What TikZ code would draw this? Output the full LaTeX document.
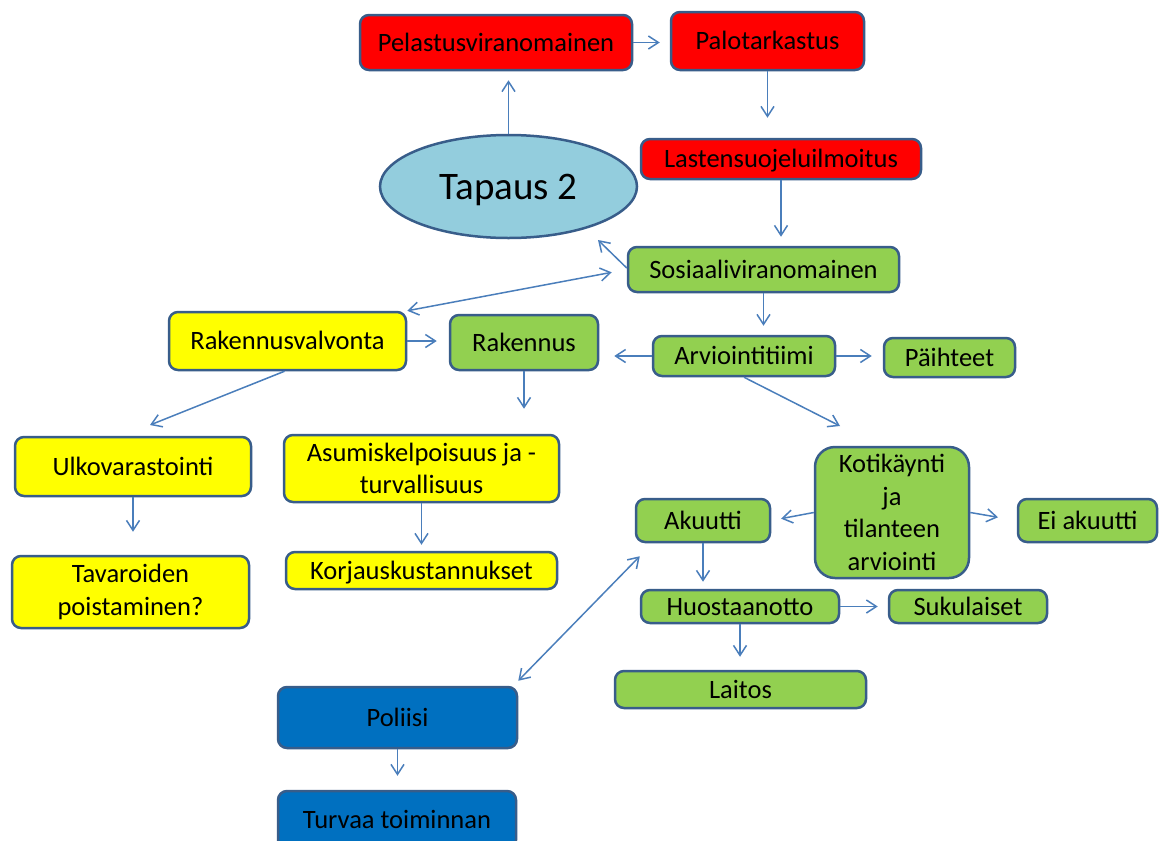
\documentclass[tikz,border=0pt]{standalone}
\usepackage{fontspec}
\setmainfont{Carlito}
\usetikzlibrary{arrows.meta,shapes.geometric}
\definecolor{bord}{HTML}{385D8A}
\definecolor{arrc}{HTML}{4A7EBB}
\definecolor{cred}{HTML}{FF0000}
\definecolor{cyel}{HTML}{FFFF00}
\definecolor{cgrn}{HTML}{92D050}
\definecolor{cell}{HTML}{93CDDD}
\definecolor{cblu}{HTML}{0070C0}
\begin{document}
\begin{tikzpicture}[x=1pt,y=-1pt,
  box/.style={draw=bord, line width=2.5pt, rounded corners=9pt, inner sep=0pt, align=center,
    font=\fontsize{26.5}{32.5}\selectfont},
  oneline/.style={text height=17pt, text depth=0pt},
  redbox/.style={box, oneline, fill=cred},
  yelbox/.style={box, oneline, fill=cyel},
  grnbox/.style={box, oneline, fill=cgrn},
  blubox/.style={box, oneline, fill=cblu},
  yelmulti/.style={box, fill=cyel},
  grnmulti/.style={box, fill=cgrn},
  arr/.style={draw=arrc, line width=1.5pt, -{Straight Barb[length=10pt,width=13pt]}},
  arrb/.style={draw=arrc, line width=1.5pt, {Straight Barb[length=10pt,width=13pt]}-{Straight Barb[length=10pt,width=13pt]}}]
\useasboundingbox (0,0) rectangle (1160,841);
\fill[white] (0,0) rectangle (1160,841);

% nodes
\node[redbox, minimum width=272pt, minimum height=55pt] (pel) at (496,42.5) {Pelastusviranomainen};
\node[redbox, minimum width=193pt, minimum height=58pt] (pal) at (767.5,41) {Palotarkastus};
\node[redbox, minimum width=280pt, minimum height=40pt] (las) at (781,159) {Lastensuojeluilmoitus};
\node[ellipse, draw=bord, line width=2.5pt, fill=cell, inner sep=0pt, minimum width=257pt, minimum height=103pt,
  text height=25pt, text depth=0pt, font=\fontsize{39}{45}\selectfont] (tap) at (508.5,186.5) {Tapaus 2};
\node[grnbox, minimum width=271pt, minimum height=45pt] (sos) at (763.5,269.5) {Sosiaaliviranomainen};
\node[yelbox, minimum width=237pt, minimum height=58pt] (rkv) at (287.5,341) {Rakennusvalvonta};
\node[grnbox, minimum width=148pt, minimum height=55pt] (rak) at (524,342.5) {Rakennus};
\node[grnbox, minimum width=182pt, minimum height=40pt] (arv) at (744,356) {Arviointitiimi};
\node[grnbox, minimum width=131pt, minimum height=39pt] (pai) at (949.5,357.5) {Päihteet};
\node[yelbox, minimum width=236pt, minimum height=59pt] (ulk) at (133,466.5) {Ulkovarastointi};
\node[yelmulti, minimum width=275pt, minimum height=67pt] (asu) at (421.5,468.5) {Asumiskelpoisuus ja -\\turvallisuus};
\node[yelmulti, minimum width=237pt, minimum height=72pt] (tav) at (130.5,592) {Tavaroiden\\poistaminen?};
\node[yelbox, minimum width=271pt, minimum height=37pt] (kor) at (421.5,570.5) {Korjauskustannukset};
\node[grnmulti, rounded corners=20pt, minimum width=154pt, minimum height=131pt] (kot) at (892,512.5) {Kotikäynti\\ja\\tilanteen\\arviointi};
\node[grnbox, minimum width=134pt, minimum height=43pt] (aku) at (703,520.5) {Akuutti};
\node[grnbox, minimum width=139pt, minimum height=43pt] (eia) at (1087.5,520.5) {Ei akuutti};
\node[grnbox, minimum width=198pt, minimum height=33pt] (huo) at (740,606.5) {Huostaanotto};
\node[grnbox, minimum width=158pt, minimum height=33pt] (suk) at (968,606.5) {Sukulaiset};
\node[grnbox, minimum width=251pt, minimum height=37pt] (lai) at (740.5,689.5) {Laitos};
\node[blubox, minimum width=239pt, minimum height=61pt] (pol) at (397.5,717.5) {Poliisi};
\node[blubox, minimum width=238pt, minimum height=58pt] (tur) at (397,820) {Turvaa toiminnan};

% connectors
\draw[arr, shorten >=9pt] (tap.north) -- (tap.north |- pel.south);
\draw[arr, shorten >=10pt] (pel.east) -- (pel.east -| pal.west);
\draw[arr, shorten >=20pt] (pal.south) -- (pal.south |- las.north);
\draw[arr, shorten >=9pt] (las.south) -- (las.south |- sos.north);
\coordinate (tapin) at (598,240);
\draw[arr] ([yshift=1.5pt]sos.west) -- (tapin);
\draw[arrb, shorten >=15.3pt] (rkv.north east) -- (sos.west);
\draw[arr, shorten >=12pt] (rkv.east) -- (rkv.east -| rak.west);
\draw[arr, shorten >=15pt] (arv.west) -- (arv.west -| rak.east);
\draw[arr, shorten >=11pt] (arv.east) -- (arv.east -| pai.west);
\draw[arr, shorten >=9pt] (sos.south) -- (sos.south |- arv.north);
\coordinate (kotin) at (840,426);
\draw[arr] (arv.south) -- (kotin);
\coordinate (ulkin) at (150,425);
\draw[arr] ([xshift=-3pt]rkv.south) -- (ulkin);
\draw[arr, shorten >=25pt] (rak.south) -- (rak.south |- asu.north);
\draw[arr, shorten >=23pt] (ulk.south) -- (ulk.south |- tav.north);
\draw[arr, shorten >=6pt] (asu.south) -- (asu.south |- kor.north);
\draw[arr, shorten >=10pt] (kot.west) -- (aku.east);
\draw[arr, shorten >=19pt] (kot.east) -- (eia.west);
\draw[arr, shorten >=7pt] (aku.south) -- (aku.south |- huo.north);
\draw[arr, shorten >=10pt] (huo.east) -- (huo.east -| suk.west);
\draw[arr, shorten >=13pt] (huo.south) -- (huo.south |- lai.north);
\draw[arrb] ([yshift=5pt]pol.north east) -- ([shift={(5pt,-13pt)}]aku.south west);
\draw[arr, shorten >=14pt] (pol.south) -- (pol.south |- tur.north);
\end{tikzpicture}
\end{document}
